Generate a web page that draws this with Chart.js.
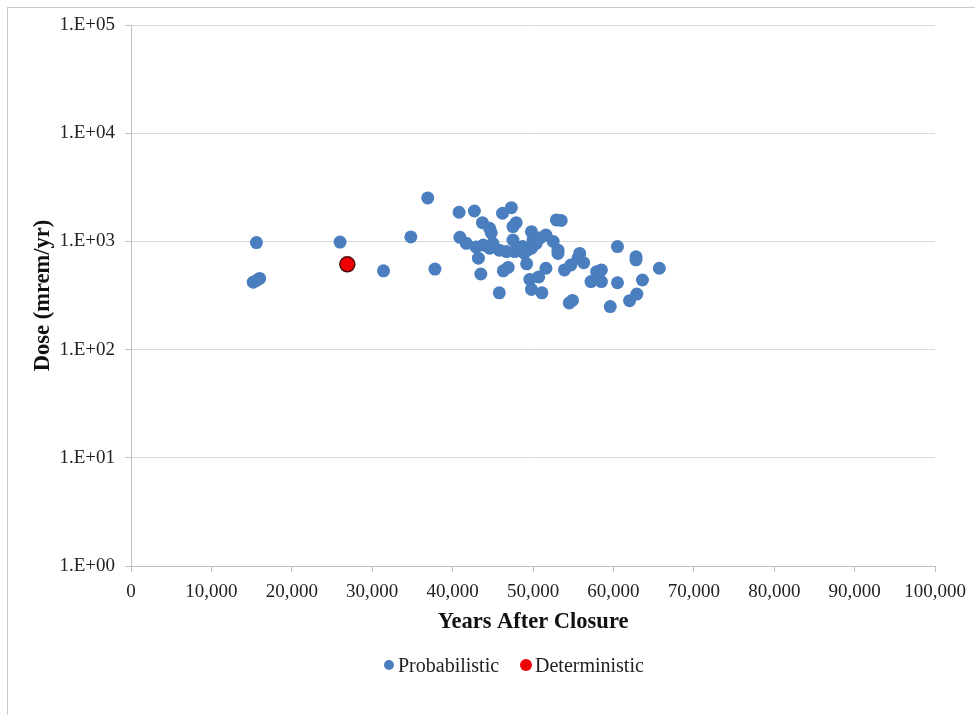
<!DOCTYPE html>
<html>
<head>
<meta charset="utf-8">
<script src="https://cdn.jsdelivr.net/npm/chart.js"></script>
<style>
  html, body { margin: 0; padding: 0; background: #fff; }
  #wrap { position: relative; width: 975px; height: 715px; overflow: hidden; }
  #frame { position: absolute; left: 7px; top: 7px; width: 1200px; height: 1200px;
           border-left: 1px solid #c9c9c9; border-top: 1px solid #c9c9c9; }
  canvas { position: absolute; left: 0; top: 0; }
  #legend { position: absolute; left: 0; top: 653px; height: 24px; width: 975px;
            font: 20px 'Liberation Serif', 'Times New Roman', serif; color: #222; }
  .item { position: absolute; top: 0; line-height: 24px; white-space: nowrap; }
  .dot { position: absolute; border-radius: 50%; }
</style>
</head>
<body>
<div id="wrap">
  <div id="frame"></div>
  <canvas id="doseChart" width="975" height="715"></canvas>
  <div id="legend"></div>
</div>
<script>
// Dose vs. years after closure

const probYears = [
  15200, 15600, 16000, 15600, 26000, 31400, 34800, 36900, 37800, 40800,
  42700, 46200, 47300, 43700, 44600, 44800, 47900, 47500, 40900, 41700,
  42900, 43800, 44600, 45000, 45800, 46700, 47500, 47700, 48300, 48700,
  49300, 49800, 50000, 49800, 50400, 51600, 50900, 52500, 53100, 53100,
  48900, 52900, 53500, 43200, 43500, 46300, 46900, 49200, 45800, 49600,
  49800, 50700, 51600, 51100, 54500, 54900, 53900, 54700, 55600, 55800,
  56300, 57900, 58500, 57200, 58500, 60500, 60500, 62800, 62800, 63600,
  65700, 59600, 62000, 62900
];
const probDose = [
  420, 435, 455, 975, 985, 535, 1100, 2520, 555, 1860,
  1910, 1820, 2050, 1490, 1320, 1200, 1490, 1370, 1090, 960,
  890, 925, 865, 960, 830, 805, 1030, 805, 830, 895,
  830, 865, 1030, 1230, 960, 1145, 1080, 1000, 830, 775,
  780, 1580, 1560, 700, 500, 535, 575, 620, 335, 445,
  360, 470, 565, 335, 270, 285, 545, 605, 700, 775,
  635, 525, 545, 425, 425, 895, 415, 720, 675, 440,
  565, 250, 283, 326
];

const detYears = [26900];
const detDose = [614];

const yTicks = [1, 10, 100, 1000, 10000, 100000];
const yTickLabels = ["1.E+00", "1.E+01", "1.E+02", "1.E+03", "1.E+04", "1.E+05"];

const serif = "'Liberation Serif', 'Times New Roman', serif";
const gridGrey = "#d9d9d9";
const axisGrey = "#bfbfbf";
const blue = "#4A7EBF";
const red = "#F00000";

function toPoints(xs, ys) {
  return xs.map((x, i) => ({ x, y: ys[i] }));
}

const chart = new Chart(document.getElementById("doseChart"), {
  type: "scatter",
  data: {
    datasets: [
      {
        label: "Probabilistic",
        data: toPoints(probYears, probDose),
        backgroundColor: blue,
        borderColor: blue,
        borderWidth: 0,
        pointRadius: 6.5
      },
      {
        label: "Deterministic",
        data: toPoints(detYears, detDose),
        backgroundColor: red,
        borderColor: "#4a1010",
        borderWidth: 1.5,
        pointRadius: 7.5
      }
    ]
  },
  options: {
    responsive: false,
    animation: false,
    layout: { padding: { left: 26, right: 39, top: 25, bottom: 79 } },
    plugins: {
      tooltip: { enabled: false },
      legend: { display: false }
    },
    scales: {
      x: {
        type: "linear",
        min: 0,
        max: 100000,
        ticks: {
          stepSize: 10000,
          color: "#222",
          padding: 9,
          maxRotation: 0,
          font: { family: serif, size: 19 },
          callback: v => v.toLocaleString("en-US")
        },
        grid: { drawOnChartArea: false, drawTicks: true, tickLength: 6, color: axisGrey },
        border: { color: axisGrey },
        title: {
          display: true,
          text: "Years After Closure",
          color: "#111",
          padding: { top: 6, bottom: 0 },
          font: { family: serif, size: 22.5, weight: "bold" }
        },
        afterFit: s => { s.height = 70; }
      },
      y: {
        type: "logarithmic",
        min: 1,
        max: 100000,
        afterBuildTicks: s => { s.ticks = yTicks.map(v => ({ value: v })); },
        ticks: {
          color: "#222",
          padding: 10,
          font: { family: serif, size: 19 },
          callback: v => yTickLabels[yTicks.indexOf(v)]
        },
        grid: { color: gridGrey, tickLength: 6, tickColor: axisGrey },
        border: { color: axisGrey },
        title: {
          display: true,
          text: "Dose (mrem/yr)",
          color: "#111",
          font: { family: serif, size: 22.5, weight: "bold" }
        },
        afterFit: s => { s.width = 105; }
      }
    }
  }
});

// legend below the axis title, built from the datasets
const legendEl = document.getElementById("legend");
const legendX = [389, 526];
const dotSize = [10, 12];
chart.data.datasets.forEach((ds, i) => {
  const dot = document.createElement("span");
  dot.className = "dot";
  dot.style.width = dotSize[i] + "px";
  dot.style.height = dotSize[i] + "px";
  dot.style.left = (legendX[i] - dotSize[i] / 2) + "px";
  dot.style.top = (12 - dotSize[i] / 2) + "px";
  dot.style.background = ds.backgroundColor;
  legendEl.appendChild(dot);

  const txt = document.createElement("span");
  txt.className = "item";
  txt.style.left = (legendX[i] + 9) + "px";
  txt.textContent = ds.label;
  legendEl.appendChild(txt);
});
</script>
</body>
</html>
